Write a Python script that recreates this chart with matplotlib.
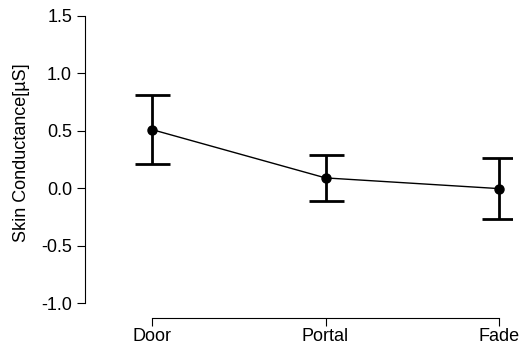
import matplotlib
matplotlib.use("Agg")
import matplotlib.pyplot as plt

conditions = ["Door", "Portal", "Fade"]
means = [0.51, 0.09, -0.003]
errors = [0.30, 0.20, 0.265]
yticks = [-1.0, -0.5, 0.0, 0.5, 1.0, 1.5]

plt.rcParams['font.family'] = ['Liberation Sans', 'DejaVu Sans']

W, H = 522, 352
fig = plt.figure(figsize=(W / 100, H / 100), dpi=100)
left_px, right_px = 85.3, 512
top_px, bottom_px = 15.7, 318
ax = fig.add_axes([left_px / W, 1 - bottom_px / H, (right_px - left_px) / W, (bottom_px - top_px) / H])

x = list(range(len(conditions)))
ax.plot(x, means, color='black', lw=1.0, zorder=2)
ax.errorbar(x, means, yerr=errors, fmt='none', ecolor='black', elinewidth=2.0,
            capsize=12.6, capthick=2.0, zorder=3)
ax.plot(x, means, 'o', color='black', markersize=6.5, zorder=4)

spacing = (499 - 152) / 2
ax.set_xlim(-(152 - left_px) / spacing, 2 + (right_px - 499) / spacing)
ax.set_ylim(-1.0 - (318 - 303.3) / 115, 1.5)

ax.set_xticks(x)
ax.set_xticklabels(conditions)
ax.set_yticks(yticks)
ax.set_yticklabels([f"{v:.1f}" for v in yticks])

for s in ['top', 'right']:
    ax.spines[s].set_visible(False)
ax.spines['left'].set_bounds(-1.0, 1.5)
ax.spines['bottom'].set_bounds(0, 2)
for s in ['left', 'bottom']:
    ax.spines[s].set_linewidth(0.8)

ax.tick_params(axis='both', direction='out', length=6, width=0.8, labelsize=13, pad=3.5)
ax.tick_params(axis='x', length=5.5, pad=2)
ax.set_ylabel("Skin Conductance[µS]", fontsize=13, labelpad=8, y=0.546)

fig.savefig("out.png", dpi=100)
